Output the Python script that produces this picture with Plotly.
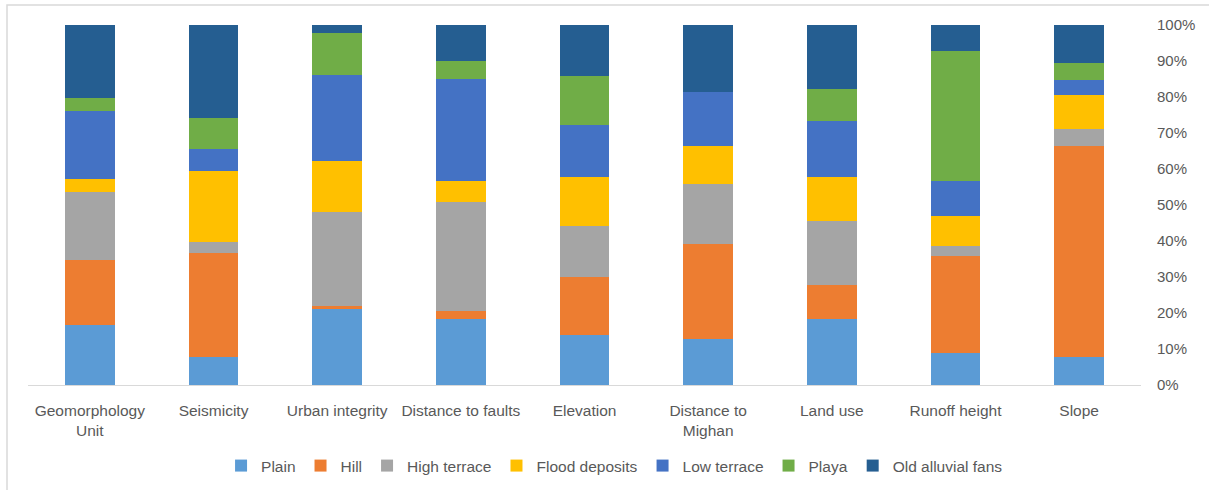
import plotly.graph_objects as go

categories = ["Geomorphology<br>Unit", "Seismicity", "Urban integrity", "Distance to faults",
              "Elevation", "Distance to<br>Mighan", "Land use", "Runoff height", "Slope"]

plain = [16.7, 7.7, 21.1, 18.3, 13.9, 12.9, 18.2, 8.9, 7.7]
hill = [18.1, 29.0, 0.9, 2.3, 16.1, 26.4, 9.6, 27.0, 58.7]
high_terrace = [18.8, 3.0, 26.1, 30.3, 14.2, 16.5, 17.8, 2.8, 4.6]
flood_deposits = [3.6, 19.7, 14.1, 5.7, 13.6, 10.6, 12.2, 8.2, 9.6]
low_terrace = [18.9, 6.2, 24.0, 28.3, 14.3, 14.9, 15.5, 9.9, 4.1]
playa = [3.6, 8.5, 11.7, 5.0, 13.6, 0.0, 8.8, 35.9, 4.7]
old_alluvial_fans = [20.3, 25.9, 2.1, 10.1, 14.3, 18.7, 17.9, 7.3, 10.6]

series = [
    ("Plain", plain, "#5B9BD5"),
    ("Hill", hill, "#ED7D31"),
    ("High terrace", high_terrace, "#A5A5A5"),
    ("Flood deposits", flood_deposits, "#FFC000"),
    ("Low terrace", low_terrace, "#4472C4"),
    ("Playa", playa, "#70AD47"),
    ("Old alluvial fans", old_alluvial_fans, "#255E91"),
]

fig = go.Figure()
for name, vals, color in series:
    fig.add_trace(go.Bar(x=categories, y=vals, name=name, marker_color=color,
                         marker_line_width=0))

font = dict(family="Liberation Sans", size=15.5, color="#595959")
yfont = dict(family="Liberation Sans", size=15, color="#595959")
fig.update_layout(
    barmode="stack",
    barnorm="percent",
    bargap=0.6,
    width=1209, height=490,
    margin=dict(l=28, r=68, t=25, b=105, autoexpand=False),
    plot_bgcolor="white",
    paper_bgcolor="white",
    font=font,
    showlegend=True,
    legend=dict(orientation="h", x=0.527, xanchor="center", y=-0.225, yanchor="middle",
                font=font, traceorder="normal", itemwidth=30),
    xaxis=dict(showline=True, linecolor="#D9D9D9", linewidth=1, ticks="",
               tickfont=font, tickangle=0, ticklabelstandoff=11, automargin=False),
    yaxis=dict(side="right", range=[0, 100], dtick=10, ticksuffix="%",
               showgrid=False, showline=False, zeroline=False, ticks="",
               tickfont=yfont, ticklabelstandoff=15, automargin=False),
    shapes=[dict(type="rect", xref="paper", yref="paper",
                 x0=-21/1113, x1=1220/1113 - 28/1113, y0=(385-495)/360, y1=(385-5)/360,
                 line=dict(color="#D9D9D9", width=1.5), fillcolor="rgba(0,0,0,0)",
                 layer="below")],
)

fig.write_html("out.html")
